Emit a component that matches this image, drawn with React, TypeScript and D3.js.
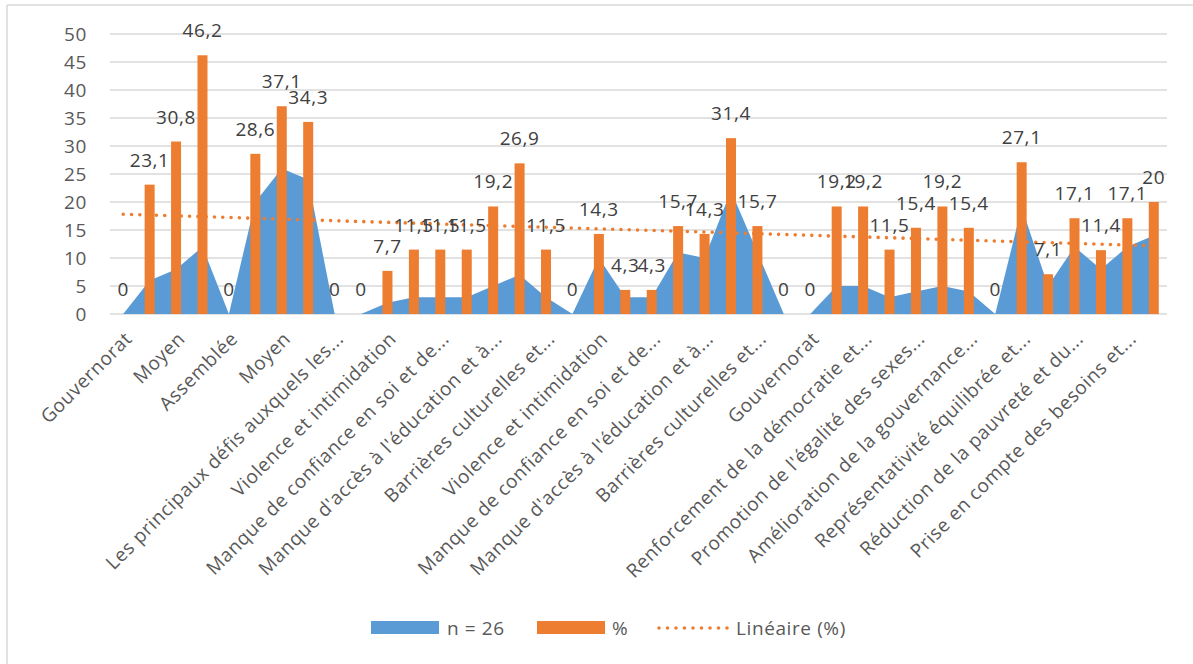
import React from "react";
import * as d3 from "d3";

// Survey categories (every other one is labelled on the axis)
const categories: string[] = [
  "Gouvernorat",
  "Faible",
  "Moyen",
  "Élevé",
  "Assemblée",
  "Faible",
  "Moyen",
  "Élevé",
  "Les principaux défis auxquels les...",
  "Gouvernorat",
  "Violence et intimidation",
  "Manque de ressources financières...",
  "Manque de confiance en soi et de...",
  "Manque de soutien des partis...",
  "Manque d'accès à l'éducation et à...",
  "Charges familiales et...",
  "Barrières culturelles et...",
  "Assemblée",
  "Violence et intimidation",
  "Manque de ressources financières...",
  "Manque de confiance en soi et de...",
  "Manque de soutien des partis...",
  "Manque d'accès à l'éducation et à...",
  "Charges familiales et...",
  "Barrières culturelles et...",
  "Les principaux impacts attendus...",
  "Gouvernorat",
  "Représentativité équilibrée et...",
  "Renforcement de la démocratie et...",
  "Réduction de la pauvreté et du...",
  "Promotion de l'égalité des sexes...",
  "Prise en compte des besoins et...",
  "Amélioration de la gouvernance...",
  "Assemblée",
  "Représentativité équilibrée et...",
  "Renforcement de la démocratie et...",
  "Réduction de la pauvreté et du...",
  "Promotion de l'égalité des sexes...",
  "Prise en compte des besoins et...",
  "Amélioration de la gouvernance...",
];

// Respondent counts ("n = 26" series, drawn as an area)
const counts: number[] = [
  0, 6, 8, 12,
  0, 20, 26, 24,
  0, 0, 2, 3, 3, 3, 5, 7, 3,
  0, 10, 3, 3, 11, 10, 22, 11,
  0, 0, 5, 5, 3, 4, 5, 4,
  0, 19, 5, 12, 8, 12, 14,
];

// Percentages ("%" series, drawn as columns)
const percents: number[] = [
  0, 23.1, 30.8, 46.2,
  0, 28.6, 37.1, 34.3,
  0, 0, 7.7, 11.5, 11.5, 11.5, 19.2, 26.9, 11.5,
  0, 14.3, 4.3, 4.3, 15.7, 14.3, 31.4, 15.7,
  0, 0, 19.2, 19.2, 11.5, 15.4, 19.2, 15.4,
  0, 27.1, 7.1, 17.1, 11.4, 17.1, 20,
];

const yTicks: number[] = [0, 5, 10, 15, 20, 25, 30, 35, 40, 45, 50];

const seriesNames = { area: "n = 26", bars: "%", trend: "Linéaire (%)" };

const W = 1193;
const H = 664;
const BLUE = "#5b9bd5";
const ORANGE = "#ed7d31";
const GRID = "#d9d9d9";
const TEXT = "#595959";
const FONT = "'Open Sans', sans-serif";
const FS = 19;
const LS = 0.6;

const fmt = (v: number) => String(v).replace(".", ",");

export default function App() {
  const idx = categories.map((_, i) => i);
  const x = d3.scaleBand<number>().domain(idx).range([110, 1167]).padding(0);
  const y = d3.scaleLinear().domain([0, 50]).range([314, 34]);
  const cx = (i: number) => (x(i) as number) + x.bandwidth() / 2;
  const barW = 10;

  const area = d3
    .area<number>()
    .x((_, i) => cx(i))
    .y0(y(0))
    .y1((d) => y(d));

  // Least-squares linear trend of the percentage series
  const n = percents.length;
  const mx = d3.mean(idx) as number;
  const my = d3.mean(percents) as number;
  const sxy = d3.sum(idx, (i) => (i - mx) * (percents[i] - my));
  const sxx = d3.sum(idx, (i) => (i - mx) * (i - mx));
  const slope = sxy / sxx;
  const intercept = my - slope * mx;
  const trend = d3
    .line<number>()
    .x((i) => cx(i))
    .y((i) => y(intercept + slope * i));

  return (
    <svg
      width={W}
      height={H}
      style={{ position: "absolute", left: 0, top: 0, background: "#fff" }}
      fontFamily={FONT}
      letterSpacing={LS}
    >
      {/* chart frame */}
      <line x1={7} y1={5} x2={W} y2={5} stroke={GRID} strokeWidth={1.5} />
      <line x1={7} y1={5} x2={7} y2={H} stroke={GRID} strokeWidth={1.5} />

      {/* gridlines and value axis */}
      {yTicks.map((t) => (
        <g key={t}>
          <line x1={110} x2={1167} y1={y(t)} y2={y(t)} stroke={GRID} strokeWidth={1.4} />
          <text x={87} y={y(t)} dy="0.36em" textAnchor="end" fontSize={FS} fill={TEXT}>
            {t}
          </text>
        </g>
      ))}

      {/* counts area */}
      <path d={area(counts) || ""} fill={BLUE} />

      {/* percentage columns */}
      {percents.map((v, i) => (
        <rect key={i} x={cx(i) - barW / 2} y={y(v)} width={barW} height={y(0) - y(v)} fill={ORANGE} />
      ))}

      {/* linear trend */}
      <path
        d={trend([0, n - 1]) || ""}
        fill="none"
        stroke={ORANGE}
        strokeWidth={3.6}
        strokeDasharray="0 8.3"
        strokeLinecap="round"
      />

      {/* column value labels */}
      {percents.map((v, i) => (
        <text key={i} x={cx(i)} y={y(v) - 18} textAnchor="middle" fontSize={FS} fill="#404040">
          {fmt(v)}
        </text>
      ))}

      {/* category labels, every other category */}
      {categories.map((c, i) =>
        i % 2 === 0 ? (
          <text
            key={i}
            transform={`translate(${cx(i) + 10},${340}) rotate(-45)`}
            textAnchor="end"
            fontSize={FS}
            fill={TEXT}
          >
            {c}
          </text>
        ) : null
      )}

      {/* legend */}
      <g fontSize={FS} fill={TEXT}>
        <rect x={371} y={621} width={68} height={13} fill={BLUE} />
        <text x={447} y={628} dy="0.36em">{seriesNames.area}</text>
        <rect x={537} y={621} width={68} height={13} fill={ORANGE} />
        <text x={612} y={628} dy="0.36em">{seriesNames.bars}</text>
        <line
          x1={659}
          x2={728}
          y1={628}
          y2={628}
          stroke={ORANGE}
          strokeWidth={3.6}
          strokeDasharray="0 8.5"
          strokeLinecap="round"
        />
        <text x={736} y={628} dy="0.36em">{seriesNames.trend}</text>
      </g>
    </svg>
  );
}
